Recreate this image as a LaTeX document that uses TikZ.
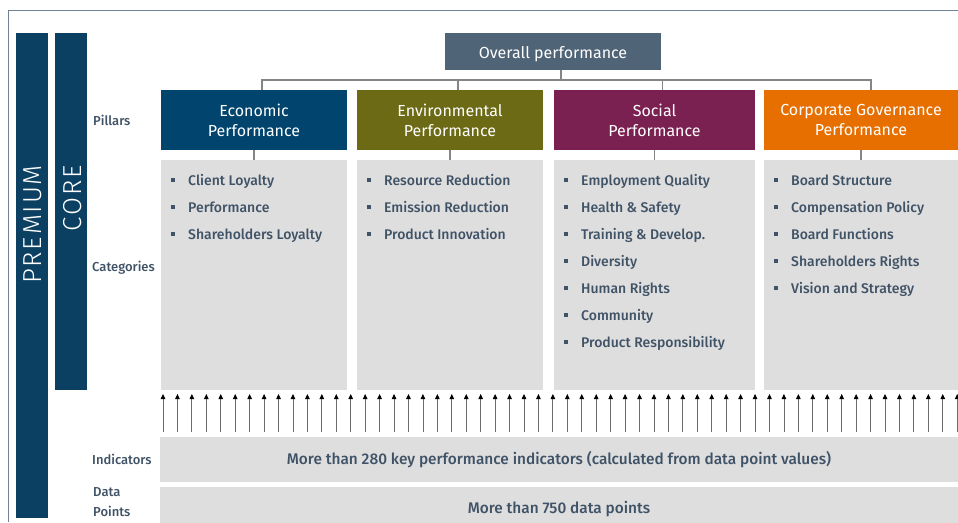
\documentclass[tikz,border=0pt]{standalone}
\usepackage{fontspec}
\setmainfont{Fira Sans}
\newfontfamily\medfont{Fira Sans Medium}
\newfontfamily\lightfont{Fira Sans Light}[LetterSpace=7]
\usetikzlibrary{arrows.meta}
\definecolor{framec}{HTML}{6E8196}
\definecolor{barblue}{HTML}{0B4063}
\definecolor{ecoblue}{HTML}{01446E}
\definecolor{overallc}{HTML}{506477}
\definecolor{olive}{HTML}{6C6A14}
\definecolor{maroon}{HTML}{7B2151}
\definecolor{orangec}{HTML}{E76F00}
\definecolor{catgrey}{HTML}{DEDEDE}
\definecolor{txt}{HTML}{3F5266}
\definecolor{connc}{HTML}{858585}
\begin{document}
\begin{tikzpicture}[x=1pt,y=-1pt,
  box/.style={anchor=north west, inner sep=0pt, outer sep=0pt, draw=none},
  pillar/.style={box, minimum height=60pt, text=white, align=center, font=\fontsize{16}{20}\selectfont},
  catbox/.style={box, fill=catgrey, minimum height=230pt},
  bar/.style={box, fill=barblue, minimum width=32pt},
  lbl/.style={anchor=west, inner sep=0pt, text=txt, align=left, font=\medfont\fontsize{13}{20}\selectfont},
  item/.style={anchor=base west, inner sep=0pt, text=txt, font=\medfont\fontsize{14}{16}\selectfont},
  conn/.style={draw=connc, line width=1.1pt},
  arr/.style={draw=gray!85!black, line width=0.8pt, -{Triangle[length=5pt,width=4.5pt,black]}},
  sidetxt/.style={rotate=90, anchor=east, text=white, inner sep=0pt, font=\lightfont\fontsize{26}{26}\selectfont},
  bigtxt/.style={text=txt, font=\medfont\fontsize{15.4}{18}\selectfont}]
\useasboundingbox (0,0) rectangle (958,522);
\fill[white] (0,0) rectangle (958,522);
% frame
\draw[framec, line width=1pt] (958,10.5) -- (8.5,10.5) -- (8.5,522);
% side bars
\node[bar, minimum height=485pt] (premium) at (16,33) {};
\node[bar, minimum height=357pt] (core) at (55,33) {};
\node[sidetxt] (premtxt) at (33,165) {PREMIUM};
\node[sidetxt] (coretxt) at (72.5,165) {CORE};
% overall
\node[box, fill=overallc, minimum width=216pt, minimum height=37pt, text=white, text height=14pt, text depth=0pt, font=\fontsize{16}{20}\selectfont] (overall) at (445,33) {Overall performance};
% pillars
\node[pillar, fill=ecoblue, minimum width=186pt] (eco) at (161,90) {Economic\\Performance};
\node[pillar, fill=olive, minimum width=186pt] (env) at (357,90) {Environmental\\Performance};
\node[pillar, fill=maroon, minimum width=201pt] (soc) at (554,90) {Social\\Performance};
\node[pillar, fill=orangec, minimum width=194pt] (gov) at (764,90) {Corporate Governance\\Performance};
% connectors from overall
\draw[conn] ([xshift=8pt]overall.south) -- ++(0,10) -| ([xshift=8pt]eco.north);
\draw[conn] ([xshift=8pt]overall.south) -- ++(0,10) -| ([xshift=8pt]env.north);
\draw[conn] ([xshift=8pt]overall.south) -- ++(0,10) -| ([xshift=8pt]soc.north);
\draw[conn] ([xshift=8pt]overall.south) -- ++(0,10) -| ([xshift=10pt]gov.north);
% category boxes
\node[catbox, minimum width=186pt] (ecoc) at (161,160) {};
\node[catbox, minimum width=186pt] (envc) at (357,160) {};
\node[catbox, minimum width=201pt] (socc) at (554,160) {};
\node[catbox, minimum width=194pt] (govc) at (764,160) {};
\draw[conn] (eco.south) -- (ecoc.north);
\draw[conn] (env.south) -- (envc.north);
\draw[conn] (soc.south) -- (socc.north);
\draw[conn] (gov.south) -- (govc.north);
% items
\newcommand{\bul}{\makebox[17pt][l]{\rule[3pt]{4pt}{4pt}}}
\foreach [count=\i] \t in {Client Loyalty, Performance, Shareholders Loyalty}
  \node[item] (ecoi\i) at (171,{185+27*(\i-1)}) {\bul\t};
\foreach [count=\i] \t in {Resource Reduction, Emission Reduction, Product Innovation}
  \node[item] (envi\i) at (367,{185+27*(\i-1)}) {\bul\t};
\foreach [count=\i] \t in {Employment Quality, {Health \& Safety}, {Training \& Develop.}, Diversity, Human Rights, Community, Product Responsibility}
  \node[item] (soci\i) at (564,{185+27*(\i-1)}) {\bul\t};
\foreach [count=\i] \t in {Board Structure, Compensation Policy, Board Functions, Shareholders Rights, Vision and Strategy}
  \node[item] (govi\i) at (774,{185+27*(\i-1)}) {\bul\t};
% indicators and data points
\node[box, fill=catgrey, minimum width=798pt, minimum height=45pt, text height=10.5pt, text depth=0pt, bigtxt] (ind) at (160,437) {More than 280 key performance indicators (calculated from data point values)};
\node[box, fill=catgrey, minimum width=798pt, minimum height=44pt, bigtxt] (dp) at (160,487) {More than 750 data points};
% arrows
\foreach \i in {0,...,55}
  \draw[arr] ({163+\i*14.44},432) -- ({163+\i*14.44},394);
% labels
\node[lbl] (lp) at (93,120) {Pillars};
\node[lbl] (lc) at (92,268) {Categories};
\node[lbl] (li) at (92,459) {Indicators};
\node[lbl] (ld) at (93,502) {Data\\Points};
\end{tikzpicture}
\end{document}
